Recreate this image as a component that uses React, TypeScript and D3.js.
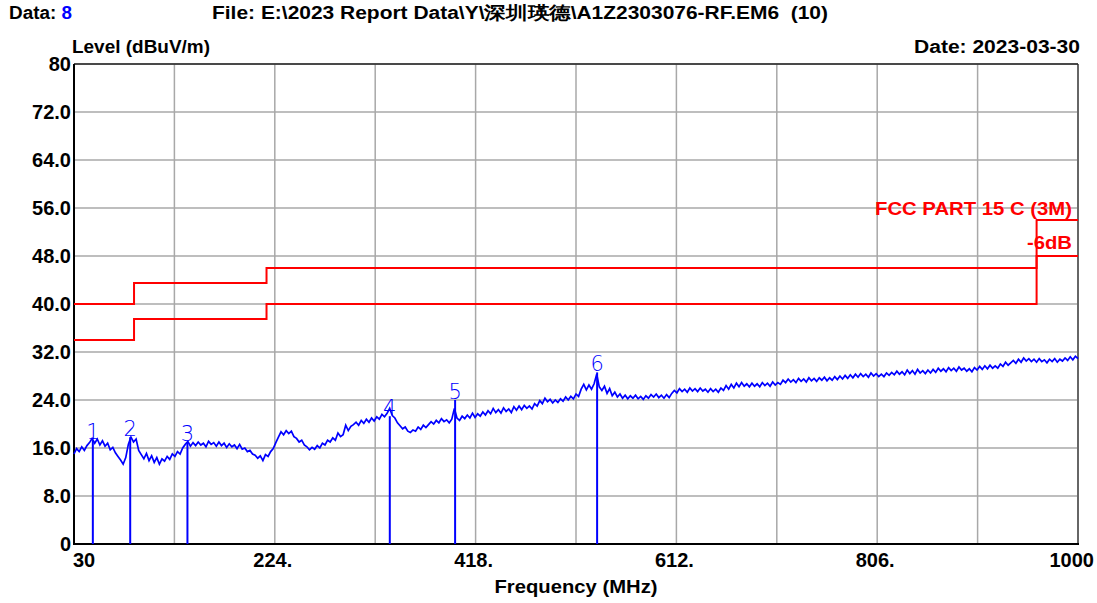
import React from 'react';
import * as d3 from 'd3';

// axis ticks
const Y_TICKS = [0, 8, 16, 24, 32, 40, 48, 56, 64, 72, 80];
const Y_TICK_LABELS = ['0', '8.0', '16.0', '24.0', '32.0', '40.0', '48.0', '56.0', '64.0', '72.0', '80'];
const X_GRID = [30, 127, 224, 321, 418, 515, 612, 709, 806, 903, 1000];
const X_TICKS = [30, 224, 418, 612, 806, 1000];
const X_TICK_LABELS = ['30', '224.', '418.', '612.', '806.', '1000'];

// FCC part 15 C (3m) limit and limit -6dB
const LIMIT_FREQ = [30, 88, 216, 960, 1000];
const LIMIT_LEVEL = [40, 43.5, 46, 54, 54];
const MARGIN_LEVEL = [34, 37.5, 40, 48, 48];

// peak markers
const MARKER_FREQ = [48.2, 84.3, 139.6, 335.1, 398.2, 535.4];
const MARKER_LEVEL = [17.3, 17.8, 17.0, 21.3, 24.0, 28.6];
const MARKER_LABELS = ['1', '2', '3', '4', '5', '6'];

// measured trace [MHz, dBuV/m]
const TRACE: [number, number][] = [
  [30, 15.0], [32.5, 15.9], [35, 15.4], [37.5, 16.2], [40, 15.6], [42.5, 16.4], [45, 16.9], [47.5, 17.6],
  [50, 16.8], [52.5, 17.5], [55, 16.5], [57.5, 17.2], [60, 16.3], [62.5, 16.8], [65, 15.7], [67.5, 16.1],
  [70, 15.2], [72.5, 14.6], [75, 14.0], [77.5, 13.3], [80, 14.4], [82.5, 16.6], [85, 17.8], [87.5, 17.0],
  [90, 17.5], [92.5, 15.6], [95, 14.9], [97.5, 14.2], [100, 15.1], [102.5, 13.9], [105, 14.7], [107.5, 13.6],
  [110, 14.4], [112.5, 13.3], [115, 14.2], [117.5, 13.8], [120, 14.6], [122.5, 14.1], [125, 15.0], [127.5, 14.6],
  [130, 15.4], [132.5, 15.0], [135, 16.0], [137.5, 16.6], [140, 17.1], [142.5, 16.3], [145, 16.9], [147.5, 16.4],
  [150, 17.0], [152.5, 16.5], [155, 16.8], [157.5, 16.2], [160, 17.1], [162.5, 16.6], [165, 16.9], [167.5, 16.3],
  [170, 17.0], [172.5, 16.4], [175, 16.8], [177.5, 16.1], [180, 16.7], [182.5, 16.2], [185, 16.5], [187.5, 15.9],
  [190, 16.6], [192.5, 15.8], [195, 16.0], [197.5, 15.4], [200, 15.6], [202.5, 15.0], [205, 14.8], [207.5, 14.3],
  [210, 14.7], [212.5, 13.9], [215, 14.9], [217.5, 14.6], [220, 15.4], [222.5, 15.9], [225, 16.9], [227.5, 17.8],
  [230, 18.7], [232.5, 18.2], [235, 18.9], [237.5, 18.4], [240, 18.8], [242.5, 17.9], [245, 17.6], [247.5, 17.0],
  [250, 17.3], [252.5, 16.5], [255, 16.2], [257.5, 15.7], [260, 16.1], [262.5, 15.8], [265, 16.4], [267.5, 16.0],
  [270, 16.8], [272.5, 16.5], [275, 17.3], [277.5, 17.0], [280, 17.7], [282.5, 17.3], [285, 18.5], [287.5, 17.9],
  [290, 18.2], [292.5, 19.8], [295, 18.9], [297.5, 19.6], [300, 19.9], [302.5, 20.3], [305, 19.8], [307.5, 20.6],
  [310, 20.1], [312.5, 20.8], [315, 20.3], [317.5, 21.0], [320, 20.5], [322.5, 21.2], [325, 20.8], [327.5, 21.6],
  [330, 21.2], [332.5, 21.8], [335, 22.6], [337.5, 21.4], [340, 21.0], [342.5, 20.2], [345, 19.7], [347.5, 19.2],
  [350, 19.5], [352.5, 18.8], [355, 18.6], [357.5, 19.0], [360, 18.8], [362.5, 19.5], [365, 19.1], [367.5, 19.8],
  [370, 19.4], [372.5, 19.9], [375, 20.4], [377.5, 20.0], [380, 20.6], [382.5, 20.2], [385, 20.9], [387.5, 20.4],
  [390, 20.7], [392.5, 20.2], [395, 20.8], [397.5, 22.6], [400, 21.0], [402.5, 20.6], [405, 21.3], [407.5, 20.9],
  [410, 21.5], [412.5, 21.0], [415, 21.8], [417.5, 21.1], [420, 21.7], [422.5, 21.3], [425, 22.0], [427.5, 21.5],
  [430, 22.2], [432.5, 21.7], [435, 22.6], [437.5, 21.9], [440, 22.4], [442.5, 21.8], [445, 22.7], [447.5, 22.1],
  [450, 22.5], [452.5, 21.9], [455, 22.9], [457.5, 22.3], [460, 23.0], [462.5, 22.4], [465, 23.1], [467.5, 22.6],
  [470, 23.0], [472.5, 22.5], [475, 23.4], [477.5, 23.0], [480, 23.9], [482.5, 23.4], [485, 24.3], [487.5, 23.7],
  [490, 24.1], [492.5, 23.5], [495, 24.0], [497.5, 23.6], [500, 24.2], [502.5, 23.8], [505, 24.5], [507.5, 24.0],
  [510, 24.6], [512.5, 24.2], [515, 25.0], [517.5, 24.6], [520, 25.8], [522.5, 26.6], [525, 25.7], [527.5, 26.5],
  [530, 25.8], [532.5, 26.7], [535, 28.3], [537.5, 26.2], [540, 25.6], [542.5, 26.3], [545, 25.1], [547.5, 25.9],
  [550, 24.7], [552.5, 25.3], [555, 24.5], [557.5, 25.0], [560, 24.3], [562.5, 24.8], [565, 24.2], [567.5, 24.7],
  [570, 24.3], [572.5, 24.8], [575, 24.2], [577.5, 24.6], [580, 24.1], [582.5, 24.7], [585, 24.3], [587.5, 24.9],
  [590, 24.5], [592.5, 25.0], [595, 24.4], [597.5, 24.8], [600, 24.3], [602.5, 24.9], [605, 24.4], [607.5, 25.1],
  [610, 25.6], [612.5, 25.2], [615, 25.9], [617.5, 25.4], [620, 25.8], [622.5, 25.3], [625, 26.0], [627.5, 25.5],
  [630, 25.9], [632.5, 25.4], [635, 26.0], [637.5, 25.5], [640, 25.8], [642.5, 25.3], [645, 25.9], [647.5, 25.4],
  [650, 25.8], [652.5, 25.3], [655, 26.0], [657.5, 25.6], [660, 26.4], [662.5, 25.8], [665, 26.6], [667.5, 26.0],
  [670, 26.8], [672.5, 26.2], [675, 26.9], [677.5, 26.3], [680, 26.7], [682.5, 26.2], [685, 26.8], [687.5, 26.3],
  [690, 26.7], [692.5, 26.2], [695, 26.9], [697.5, 26.4], [700, 26.8], [702.5, 26.3], [705, 27.0], [707.5, 26.5],
  [710, 26.9], [712.5, 26.6], [715, 27.3], [717.5, 26.9], [720, 27.5], [722.5, 27.0], [725, 27.4], [727.5, 26.9],
  [730, 27.6], [732.5, 27.1], [735, 27.5], [737.5, 27.0], [740, 27.7], [742.5, 27.2], [745, 27.6], [747.5, 27.1],
  [750, 27.7], [752.5, 27.3], [755, 27.8], [757.5, 27.2], [760, 27.7], [762.5, 27.3], [765, 27.9], [767.5, 27.4],
  [770, 28.0], [772.5, 27.5], [775, 28.1], [777.5, 27.6], [780, 28.2], [782.5, 27.7], [785, 28.3], [787.5, 27.8],
  [790, 28.4], [792.5, 27.9], [795, 28.3], [797.5, 27.8], [800, 28.5], [802.5, 28.0], [805, 28.4], [807.5, 27.9],
  [810, 28.3], [812.5, 27.9], [815, 28.5], [817.5, 28.1], [820, 28.6], [822.5, 28.2], [825, 28.8], [827.5, 28.3],
  [830, 28.7], [832.5, 28.2], [835, 29.0], [837.5, 28.4], [840, 28.9], [842.5, 28.3], [845, 29.1], [847.5, 28.5],
  [850, 28.9], [852.5, 28.4], [855, 29.0], [857.5, 28.5], [860, 29.1], [862.5, 28.6], [865, 29.3], [867.5, 28.8],
  [870, 29.2], [872.5, 28.7], [875, 29.4], [877.5, 28.9], [880, 29.3], [882.5, 28.8], [885, 29.5], [887.5, 29.0],
  [890, 29.3], [892.5, 28.8], [895, 29.2], [897.5, 28.7], [900, 29.4], [902.5, 29.0], [905, 29.6], [907.5, 29.1],
  [910, 29.7], [912.5, 29.2], [915, 29.8], [917.5, 29.3], [920, 29.7], [922.5, 29.3], [925, 30.0], [927.5, 29.6],
  [930, 30.3], [932.5, 29.8], [935, 30.2], [937.5, 30.6], [940, 30.1], [942.5, 30.8], [945, 30.3], [947.5, 31.0],
  [950, 30.5], [952.5, 30.9], [955, 30.4], [957.5, 30.8], [960, 30.3], [962.5, 30.9], [965, 30.4], [967.5, 30.7],
  [970, 30.2], [972.5, 30.8], [975, 30.4], [977.5, 30.9], [980, 30.3], [982.5, 30.8], [985, 30.5], [987.5, 31.0],
  [990, 30.6], [992.5, 31.2], [995, 30.7], [997.5, 31.3], [1000, 30.9],
];

const W = 1097;
const H = 603;
const FONT = '"Liberation Sans", Arial, sans-serif';

export default function App() {
  const x = d3.scaleLinear().domain([30, 1000]).range([74, 1078]);
  const y = d3.scaleLinear().domain([0, 80]).range([544, 64]);

  const limitPts: [number, number][] = LIMIT_FREQ.map((f, i) => [f, LIMIT_LEVEL[i]]);
  const marginPts: [number, number][] = LIMIT_FREQ.map((f, i) => [f, MARGIN_LEVEL[i]]);
  const stepLine = d3
    .line<[number, number]>()
    .x((d) => x(d[0]))
    .y((d) => y(d[1]))
    .curve(d3.curveStepAfter);
  const traceLine = d3
    .line<[number, number]>()
    .x((d) => x(d[0]))
    .y((d) => y(d[1]));

  const [x0, x1] = x.range();
  const [y0, y1] = y.range();
  const stretch = 'spacingAndGlyphs';

  return (
    <div style={{ position: 'absolute', left: 0, top: 0 }}>
      <svg width={W} height={H} style={{ display: 'block', background: '#fff' }} fontFamily={FONT}>
        {/* header */}
        <text x={9} y={19} fontSize={17.5} fontWeight="bold" textLength={63} lengthAdjust={stretch}>
          Data: <tspan fill="#0000ff">8</tspan>
        </text>
        <text
          x={212}
          y={19}
          fontSize={17.5}
          fontWeight="bold"
          textLength={616}
          lengthAdjust={stretch}
          style={{ whiteSpace: 'pre' }}
        >
          {'File: E:\\2023 Report Data\\Y\\深圳瑛德\\A1Z2303076-RF.EM6  (10)'}
        </text>
        <text x={72} y={53} fontSize={17.5} fontWeight="bold" textLength={138} lengthAdjust={stretch}>
          Level (dBuV/m)
        </text>
        <text
          x={1080}
          y={53}
          fontSize={17.5}
          fontWeight="bold"
          textAnchor="end"
          textLength={166}
          lengthAdjust={stretch}
        >
          Date: 2023-03-30
        </text>

        {/* grid */}
        {Y_TICKS.map((t) => (
          <line key={'gy' + t} x1={x0} x2={x1} y1={y(t)} y2={y(t)} stroke="#a8a8a8" strokeWidth={1.5} />
        ))}
        {X_GRID.map((t) => (
          <line key={'gx' + t} x1={x(t)} x2={x(t)} y1={y0} y2={y1} stroke="#a8a8a8" strokeWidth={1.5} />
        ))}

        {/* frame */}
        <line x1={x1} x2={x1} y1={y0} y2={y1} stroke="#666" strokeWidth={2} />
        <line x1={x0} x2={x1} y1={y1} y2={y1} stroke="#222" strokeWidth={1.5} />
        <line x1={x0} x2={x0} y1={y0 + 1} y2={y1} stroke="#000" strokeWidth={2} />
        <line x1={x0 - 1} x2={x1 + 1} y1={y0} y2={y0} stroke="#000" strokeWidth={2} />

        {/* y tick labels */}
        {Y_TICKS.map((t, i) => (
          <text
            key={'ty' + t}
            x={71}
            y={y(t)}
            dy="0.36em"
            fontSize={20}
            fontWeight="bold"
            textAnchor="end"
          >
            {Y_TICK_LABELS[i]}
          </text>
        ))}

        {/* x tick labels */}
        {X_TICKS.map((t, i) => {
          const first = i === 0;
          const last = i === X_TICKS.length - 1;
          return (
            <text
              key={'tx' + t}
              x={first ? x(t) - 1 : last ? 1094 : x(t) - 2}
              y={567}
              fontSize={20}
              fontWeight="bold"
              textAnchor={first ? 'start' : last ? 'end' : 'middle'}
            >
              {X_TICK_LABELS[i]}
            </text>
          );
        })}
        <text
          x={(x0 + x1) / 2}
          y={593}
          fontSize={19}
          fontWeight="bold"
          textAnchor="middle"
          textLength={163}
          lengthAdjust={stretch}
        >
          Frequency (MHz)
        </text>

        {/* limits */}
        <path d={stepLine(limitPts) || ''} fill="none" stroke="#ff0000" strokeWidth={2} />
        <path d={stepLine(marginPts) || ''} fill="none" stroke="#ff0000" strokeWidth={2} />
        <text
          x={1072}
          y={215}
          fontSize={19}
          fontWeight="bold"
          fill="#ff0000"
          textAnchor="end"
          textLength={197}
          lengthAdjust={stretch}
        >
          FCC PART 15 C (3M)
        </text>
        <text
          x={1072}
          y={249}
          fontSize={19}
          fontWeight="bold"
          fill="#ff0000"
          textAnchor="end"
          textLength={45}
          lengthAdjust={stretch}
        >
          -6dB
        </text>

        {/* trace */}
        <path d={traceLine(TRACE) || ''} fill="none" stroke="#0000ff" strokeWidth={1.7} />

        {/* markers */}
        {MARKER_FREQ.map((f, i) => (
          <g key={'m' + i}>
            <line x1={x(f)} x2={x(f)} y1={y(0)} y2={y(MARKER_LEVEL[i])} stroke="#0000ff" strokeWidth={2} />
            <text
              x={x(f)}
              y={y(MARKER_LEVEL[i]) - 1}
              fontSize={21}
              fill="#0000ff"
              textAnchor="middle"
              fontFamily='"DejaVu Sans", sans-serif'
              fontWeight={300}
            >
              {MARKER_LABELS[i]}
            </text>
          </g>
        ))}
      </svg>
    </div>
  );
}
